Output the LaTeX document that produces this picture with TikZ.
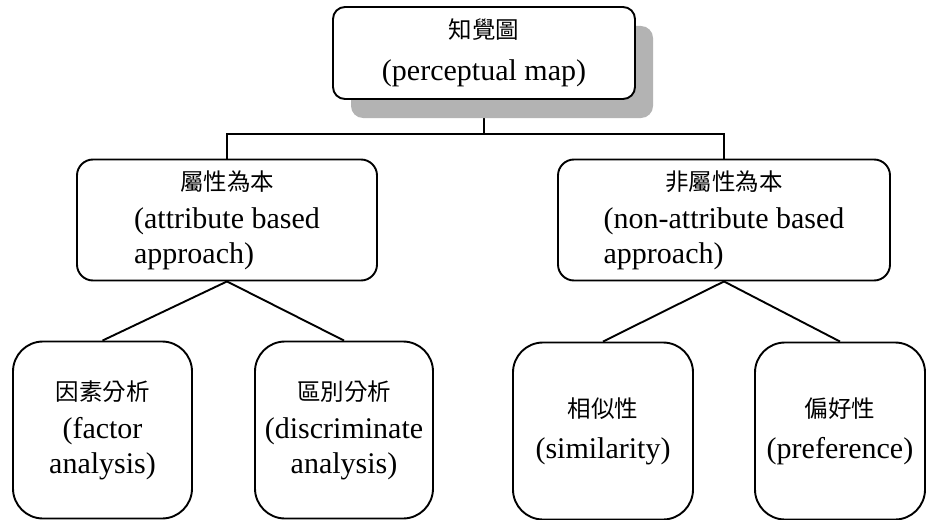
\documentclass[tikz,border=0pt]{standalone}
\usepackage{fontspec}
\setmainfont{Liberation Serif}
\newfontfamily\cjk{Noto Sans CJK TC}
\usetikzlibrary{shadows,backgrounds}
\definecolor{shadowgray}{HTML}{B3B3B3}
\tikzset{
  box/.style={draw, line width=1.9pt, fill=white, inner sep=0pt,
    font=\fontsize{30}{35}\selectfont},
  topbox/.style={box, rounded corners=12pt, minimum width=302pt, minimum height=92pt,
    drop shadow={shadow xshift=18pt, shadow yshift=-19pt, fill=shadowgray, opacity=1}},
  midbox/.style={box, rounded corners=16pt, minimum height=121pt},
  leafbox/.style={box, rounded corners=30pt, minimum height=177pt, align=center},
  link/.style={line width=1.9pt}
}
\newcommand{\zhline}[1]{{\cjk\fontsize{23.5}{35}\selectfont #1}}
\begin{document}
\begin{tikzpicture}[x=1pt, y=-1pt]
  \useasboundingbox (0,0) rectangle (928,519);

  % root
  \node[topbox, align=center] (root) at (484,53)
    {\zhline{知覺圖}\\[7pt](perceptual map)};

  % second level
  \node[midbox, minimum width=300pt] (attr) at (227,220)
    {\begin{tabular}{@{}l@{}}\multicolumn{1}{@{}c@{}}{\zhline{屬性為本}}\\[3pt](attribute based\\approach)\end{tabular}};
  \node[midbox, minimum width=332pt] (nonattr) at (724,220)
    {\begin{tabular}{@{}l@{}}\multicolumn{1}{@{}c@{}}{\zhline{非屬性為本}}\\[3pt](non-attribute based\\approach)\end{tabular}};

  % leaves
  \node[leafbox, minimum width=179pt] (factor) at (102.5,430)
    {\zhline{因素分析}\\[3pt](factor\\analysis)};
  \node[leafbox, minimum width=178pt] (discr) at (344,430)
    {\zhline{區別分析}\\[3pt](discriminate\\analysis)};
  \node[leafbox, minimum width=180pt] (simil) at (603,431)
    {\zhline{相似性}\\[6pt](similarity)};
  \node[leafbox, minimum width=170pt] (pref) at (840,431)
    {\zhline{偏好性}\\[6pt](preference)};

  % connectors, kept behind the boxes and the shadow
  \begin{pgfonlayer}{background}
    \coordinate (bar) at (484,134);
    \draw[link] (root.south) -- (bar);
    \draw[link] (bar) -| (attr.north);
    \draw[link] (bar) -| (nonattr.north);
  \end{pgfonlayer}
  \draw[link] (attr.south) -- (factor.north);
  \draw[link] (attr.south) -- (discr.north);
  \draw[link] (nonattr.south) -- (simil.north);
  \draw[link] (nonattr.south) -- (pref.north);
\end{tikzpicture}
\end{document}
